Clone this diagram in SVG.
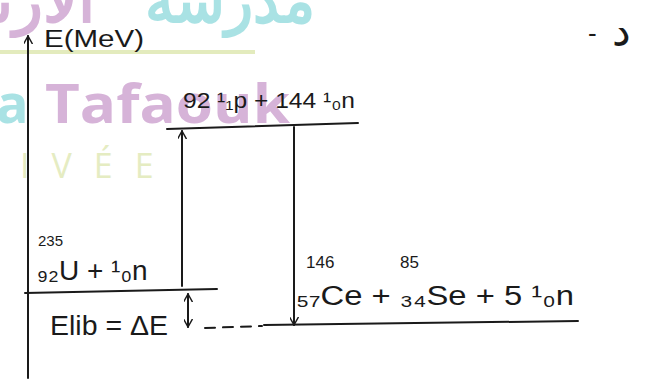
<svg xmlns="http://www.w3.org/2000/svg" width="653" height="383" viewBox="0 0 653 383">
<defs>
<style>
.ink{fill:none;stroke:#1a1a1a;stroke-width:2;stroke-linecap:round}
.t{font-family:"Liberation Sans","DejaVu Sans",sans-serif;fill:#1a1a1a}
.wm{font-family:"Open Sans","Noto Sans",sans-serif;font-weight:bold}
</style>
<marker id="ah" viewBox="0 0 10 10" refX="9" refY="5" markerWidth="9" markerHeight="9" orient="auto-start-reverse" markerUnits="userSpaceOnUse">
<path d="M0,0 L9,5 L0,10" fill="none" stroke="#1a1a1a" stroke-width="1.6"/>
</marker>
</defs>
<rect width="653" height="383" fill="#ffffff"/>
<g id="watermark">
<text class="wm" x="315" y="22" font-size="62" fill="#a9e2e4" text-anchor="end" textLength="170" lengthAdjust="spacingAndGlyphs">مدرسة</text>
<text class="wm" x="95" y="22" font-size="62" fill="#d6b3d8" text-anchor="end">الارتقاء</text>
<line x1="0" y1="52" x2="255" y2="52" stroke="#e3ebbd" stroke-width="4"/>
<text class="wm" x="-4" y="123" font-size="54" fill="#a9e2e4">a</text>
<text class="wm" x="45" y="123" font-size="54" fill="#d6b3d8" textLength="245" lengthAdjust="spacingAndGlyphs">Tafaouk</text>
<text x="20" y="178" font-size="34" fill="#e5ecc2" font-family="'Open Sans',sans-serif" letter-spacing="22">IVÉE</text>
</g>
<g id="connectors">
<line class="ink" x1="28" y1="378" x2="28" y2="36" marker-end="url(#ah)"/>
<line class="ink" x1="167" y1="129" x2="358" y2="123"/>
<line class="ink" x1="182" y1="286" x2="182" y2="131" marker-end="url(#ah)"/>
<line class="ink" x1="294" y1="127" x2="294" y2="325" marker-end="url(#ah)"/>
<line class="ink" x1="25" y1="293" x2="217" y2="289"/>
<line class="ink" x1="188" y1="294" x2="188" y2="327" marker-start="url(#ah)" marker-end="url(#ah)"/>
<line class="ink" x1="205" y1="328" x2="262" y2="326" stroke-dasharray="10 8"/>
<line class="ink" x1="264" y1="325" x2="578" y2="321"/>
</g>
<g id="axis-label"><text class="t" x="44" y="47" font-size="23" textLength="100" lengthAdjust="spacingAndGlyphs">E(MeV)</text></g>
<g id="level-nucleons"><text class="t" x="183" y="108" font-size="22" textLength="172" lengthAdjust="spacingAndGlyphs">92 ¹₁p + 144 ¹₀n</text></g>
<g id="level-reactants">
<text class="t" x="38" y="246" font-size="15">235</text>
<text class="t" x="37" y="280" font-size="28">₉₂U + ¹₀n</text>
</g>
<g id="level-products">
<text class="t" x="306" y="268" font-size="17">146</text>
<text class="t" x="400" y="268" font-size="17">85</text>
<text class="t" x="296" y="305" font-size="27" textLength="278" lengthAdjust="spacingAndGlyphs">₅₇Ce + ₃₄Se + 5 ¹₀n</text>
</g>
<g id="energy-label"><text class="t" x="50" y="335" font-size="27" textLength="118" lengthAdjust="spacingAndGlyphs">Elib = ΔE</text></g>
<g id="part-label">
<text class="t" x="588" y="42" font-size="26">-</text>
<text class="t" x="612" y="46" font-size="42" font-family="'Noto Sans','DejaVu Sans',sans-serif">د</text>
</g>
</svg>
